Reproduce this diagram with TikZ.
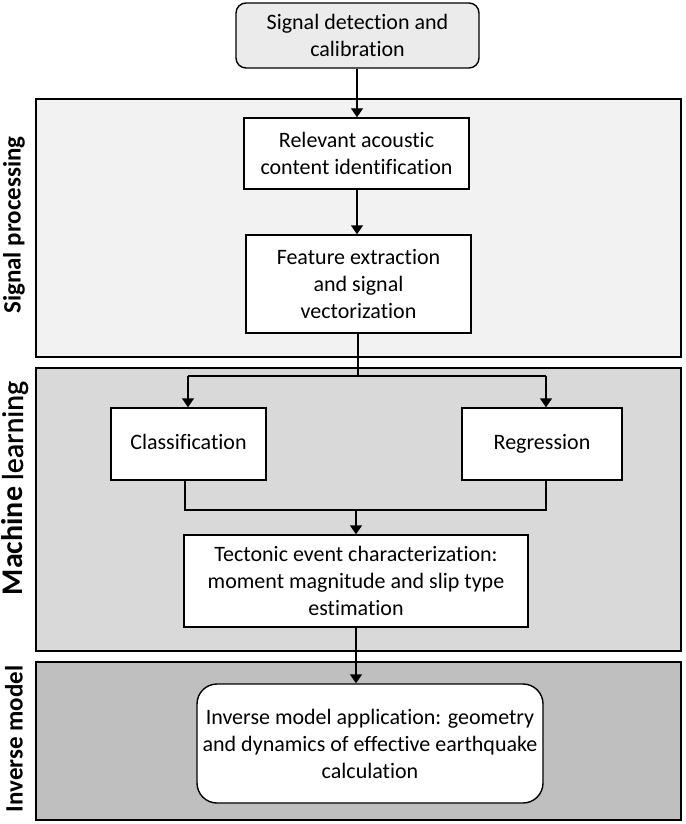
\documentclass[tikz,border=0pt]{standalone}
\usepackage{fontspec}
\setmainfont{Carlito}[Ligatures=NoCommon]
\newfontfamily\semiweight{Carlito}[FakeBold=0.8]
\usetikzlibrary{arrows.meta}
\begin{document}
\begin{tikzpicture}[x=1pt,y=-1pt,
  every node/.style={font=\fontsize{22}{27}\selectfont, align=center, inner sep=0pt},
  panel/.style={draw=black, line width=2pt},
  stepbox/.style={draw=black, line width=1.4pt, fill=white},
  oneline/.style={text height=15pt, text depth=5pt},
  sidelabel/.style={rotate=90, font=\fontsize{25}{30}\selectfont\bfseries},
  conn/.style={line width=1.4pt},
  arr/.style={conn, -{Triangle[width=12pt,length=9pt]}}
]
\useasboundingbox (0,0) rectangle (685,824);
% panels
\fill[white] (0,0) rectangle (685,824);
\node[panel, fill=black!5, minimum width=645, minimum height=258] (sp) at (358.5,228) {};
\node[panel, fill=black!15, minimum width=645, minimum height=283] (ml) at (358.5,509.5) {};
\node[panel, fill=black!25, minimum width=645, minimum height=158] (im) at (358.5,741) {};
% side labels
\node[sidelabel] (lsp) at (14,225) {Signal processing};
\node[sidelabel, font=\fontsize{30}{36}\selectfont] (lml) at (15,488) {\textbf{Machine} {\semiweight learning}};
\node[sidelabel] (lim) at (14,739) {Inverse model};
% boxes
\node[stepbox, fill=black!8, rounded corners=10pt, minimum width=243, minimum height=65] (top) at (357.5,35.5) {Signal detection and\\calibration};
\node[stepbox, minimum width=225, minimum height=71] (rel) at (356.5,153.5) {Relevant acoustic\\content identification};
\node[stepbox, minimum width=225, minimum height=98] (feat) at (358.5,284) {Feature extraction\\and signal\\vectorization};
\node[stepbox, oneline, minimum width=155, minimum height=72] (cls) at (188.5,444) {Classification};
\node[stepbox, oneline, minimum width=160, minimum height=72] (reg) at (542,444) {Regression};
\node[stepbox, minimum width=344, minimum height=92] (tec) at (356,581) {Tectonic event characterization:\\moment magnitude and slip type\\estimation};
\node[stepbox, rounded corners=20pt, minimum width=346, minimum height=119] (inv) at (370,743.5) {Inverse model application: geometry\\and dynamics of effective earthquake\\calculation};
% connectors
\coordinate (split) at (358,376);
\coordinate (splitL) at (188,376);
\coordinate (splitR) at (546,376);
\coordinate (mergeL) at (185,510);
\coordinate (mergeR) at (546,510);
\coordinate (merge) at (356,510);
\draw[arr] (top.south -| 357,0) -- (rel.north -| 357,0);
\draw[arr] (rel.south -| 357,0) -- (feat.north -| 357,0);
\draw[conn] (feat.south -| split) -- (split);
\draw[conn] (splitL) -- (splitR);
\draw[arr] (splitL) -- (cls.north -| splitL);
\draw[arr] (splitR) -- (reg.north -| splitR);
\draw[conn] (cls.south -| mergeL) -- (mergeL) -- (mergeR) -- (reg.south -| mergeR);
\draw[arr] (merge) -- (tec.north -| merge);
\draw[arr] (tec.south -| merge) -- (inv.north -| merge);
\end{tikzpicture}
\end{document}
